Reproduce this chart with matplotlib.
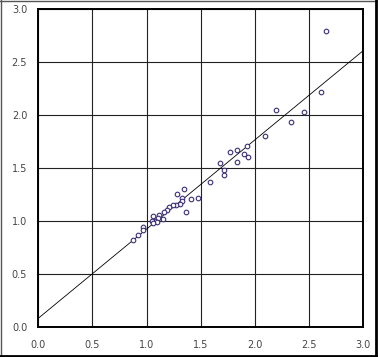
import matplotlib
matplotlib.use("Agg")
import matplotlib.pyplot as plt
from matplotlib.lines import Line2D
import numpy as np

# scatter values
x_vals = [2.652, 2.609, 2.197, 2.449, 2.329, 2.092, 1.929, 1.831, 1.769, 1.902,
          1.938, 1.831, 1.677, 1.717, 1.717, 1.588, 1.348, 1.280, 1.409, 1.477,
          1.329, 1.323, 1.308, 1.268, 1.246, 1.360, 1.203, 1.191, 1.157, 1.151,
          1.117, 1.102, 1.058, 1.077, 1.049, 1.092, 1.062, 0.963, 0.963, 0.920,
          0.871]
y_vals = [2.796, 2.223, 2.053, 2.035, 1.940, 1.802, 1.711, 1.673, 1.651, 1.632,
          1.604, 1.560, 1.550, 1.484, 1.434, 1.374, 1.302, 1.255, 1.214, 1.223,
          1.220, 1.192, 1.164, 1.151, 1.151, 1.091, 1.132, 1.107, 1.085, 1.025,
          1.060, 1.028, 1.050, 1.006, 1.006, 0.991, 0.984, 0.947, 0.918, 0.871,
          0.821]

# fitted line endpoints
fit_x = [0.0, 3.0]
fit_y = [0.085, 2.61]

ticks = [0.0, 0.5, 1.0, 1.5, 2.0, 2.5, 3.0]
tick_labels = ["0.0", "0.5", "1.0", "1.5", "2.0", "2.5", "3.0"]

fig = plt.figure(figsize=(3.78, 3.57), dpi=100)
ax = fig.add_axes([0.1013, 0.0832, 0.8598, 0.891])

ax.plot(fit_x, fit_y, color="black", lw=0.6, zorder=2)
ax.plot(x_vals, y_vals, linestyle="none", marker="o", ms=3.3,
        mfc="white", mec="#3e2f78", mew=0.8, zorder=3)

ax.set_xlim(0, 3)
ax.set_ylim(0, 3)
ax.set_xticks(ticks)
ax.set_yticks(ticks)
ax.set_xticklabels(tick_labels)
ax.set_yticklabels(tick_labels)
ax.tick_params(length=0, labelsize=7, labelcolor="#444444")
ax.tick_params(axis="x", pad=9)
ax.tick_params(axis="y", pad=8)
ax.grid(True, color="#222222", lw=0.8)
ax.set_axisbelow(True)
for s in ax.spines.values():
    s.set_linewidth(1.4)
    s.set_color("black")

# outer frame around the picture
fig.add_artist(Line2D([0.002, 0.002], [0, 1], transform=fig.transFigure, color="#555555", lw=1))
fig.add_artist(Line2D([0, 1], [0.998, 0.998], transform=fig.transFigure, color="#555555", lw=1))
fig.add_artist(Line2D([0.995, 0.995], [0, 1], transform=fig.transFigure, color="black", lw=2))
fig.add_artist(Line2D([0, 1], [0.004, 0.004], transform=fig.transFigure, color="black", lw=2))

fig.savefig("out.png", dpi=100)
